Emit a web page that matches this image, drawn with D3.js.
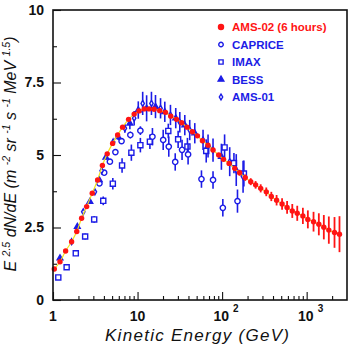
<!DOCTYPE html>
<meta charset="UTF-8">
<style>
  body { margin: 0; background: #fff; }
  text { font-family: "Liberation Sans", Arial, sans-serif; }
</style>
<svg width="350" height="346"></svg>
<script src="https://d3js.org/d3.v7.min.js"></script>
<script>
  // AMS-02 (6 hours) simulated points, kinetic energy in GeV
  const amsEnergy = [1.036, 1.21, 1.41, 1.66, 1.91, 2.18, 2.50, 2.91, 3.37, 3.84,
    4.38, 5.07, 5.81, 6.65, 7.83, 9.12, 10.4, 12.0, 13.7, 15.7,
    18.3, 21.4, 24.7, 28.9, 33.3, 38.5, 44.6, 51.1, 58.5, 68.2,
    78.1, 91.2, 104, 121, 141, 161, 188, 218, 249, 286,
    333, 382, 441, 512, 587, 676, 774, 902, 1033, 1206,
    1393, 1596, 1829, 2135, 2445];
  const amsFlux = [1.07, 1.32, 1.69, 2.01, 2.36, 2.82, 3.22, 3.68, 4.14, 4.64,
    5.04, 5.40, 5.69, 5.96, 6.23, 6.41, 6.52, 6.59, 6.59, 6.58,
    6.53, 6.47, 6.34, 6.23, 6.11, 5.96, 5.80, 5.66, 5.49, 5.34,
    5.17, 5.00, 4.85, 4.71, 4.54, 4.39, 4.22, 4.08, 3.97, 3.85,
    3.73, 3.57, 3.44, 3.31, 3.19, 3.07, 2.99, 2.90, 2.78, 2.70,
    2.61, 2.51, 2.41, 2.33, 2.27];
  const amsErr = [0.04, 0.04, 0.04, 0.04, 0.04, 0.04, 0.04, 0.04, 0.04, 0.04,
    0.04, 0.04, 0.04, 0.04, 0.04, 0.04, 0.04, 0.04, 0.04, 0.04,
    0.04, 0.04, 0.04, 0.04, 0.04, 0.04, 0.04, 0.04, 0.04, 0.04,
    0.06, 0.07, 0.07, 0.08, 0.09, 0.10, 0.11, 0.12, 0.13, 0.14,
    0.15, 0.16, 0.18, 0.20, 0.22, 0.24, 0.26, 0.28, 0.31, 0.34,
    0.38, 0.42, 0.47, 0.53, 0.62];

  const capriceEnergy = [3.54, 4.03, 4.71, 5.47, 6.47, 8.22, 10.8, 15.0, 20.1, 23.4, 27.9, 33.6, 39.6, 57.0, 78.1, 102, 152];
  const capriceFlux = [4.02, 4.39, 4.77, 5.10, 5.48, 5.69, 5.84, 5.63, 5.52, 5.29, 4.76, 5.18, 5.02, 4.17, 4.14, 3.18, 3.41];
  const capriceErr = [0.05, 0.06, 0.07, 0.08, 0.1, 0.12, 0.15, 0.3, 0.35, 0.35, 0.3, 0.35, 0.35, 0.3, 0.3, 0.3, 0.4];

  const imaxEnergy = [1.155, 1.45, 1.86, 2.40, 3.07, 3.93, 5.10, 6.56, 8.45, 10.8, 14.0, 23.1, 30.2, 38.9, 64.9, 107, 138, 181];
  const imaxFlux = [0.78, 1.13, 1.61, 2.19, 2.78, 3.42, 4.01, 4.64, 5.08, 5.34, 5.46, 5.83, 5.54, 5.29, 5.14, 5.26, 4.72, 4.36];
  const imaxErr = [0.05, 0.07, 0.08, 0.1, 0.12, 0.15, 0.2, 0.25, 0.28, 0.25, 0.25, 0.25, 0.3, 0.3, 0.4, 0.45, 0.35, 0.45];

  const bessEnergy = [1.21, 1.94, 2.73, 3.52, 4.22, 5.9, 8.11, 10.2, 12.8, 16.3, 21.0, 28.3, 36.2, 47.5, 68.2, 98.1];
  const bessFlux = [1.44, 2.53, 3.39, 4.14, 4.92, 5.62, 6.09, 6.55, 6.61, 6.67, 6.49, 6.27, 6.03, 5.75, 5.31, 4.94];
  const bessErr = [0.04, 0.05, 0.06, 0.07, 0.08, 0.1, 0.2, 0.3, 0.45, 0.4, 0.35, 0.35, 0.35, 0.35, 0.4, 0.45];

  const ams01Energy = [1.66, 2.28, 3.13, 3.76, 5.15, 7.08, 9.12, 11.5, 14.6, 18.7, 24.5, 31.6, 41.4, 59.5, 78.1, 123, 147, 177];
  const ams01Flux = [2.01, 3.04, 3.73, 4.46, 5.45, 5.92, 6.27, 6.78, 6.78, 6.61, 6.38, 6.13, 5.86, 5.52, 5.17, 4.77, 4.48, 4.25];
  const ams01Err = [0.05, 0.06, 0.07, 0.08, 0.1, 0.15, 0.25, 0.4, 0.4, 0.35, 0.35, 0.35, 0.35, 0.35, 0.4, 0.5, 0.55, 0.55];

  const yTicks = [0, 2.5, 5, 7.5, 10];
  const yMinor = [1.25, 3.75, 6.25, 8.75];
  const xTicks = [1, 10, 100, 1000];
  const xTickLabels = [['1', ''], ['10', ''], ['10', '2'], ['10', '3']];

  const legendLabels = ['AMS-02 (6 hours)', 'CAPRICE', 'IMAX', 'BESS', 'AMS-01'];

  const RED = '#ff1414', BLUE = '#1c1ce6';

  const plotLeft = 53, plotRight = 347, plotTop = 10, plotBottom = 300;

  const svg = d3.select('svg');
  const x = d3.scaleLog().domain([1, 3000]).range([plotLeft, plotRight]);
  const y = d3.scaleLinear().domain([0, 10]).range([plotBottom, plotTop]);

  const zip = (e, f, s) => e.map((v, i) => ({ e: v, f: f[i], s: s[i] }));

  const blueSets = [
    { pts: zip(imaxEnergy, imaxFlux, imaxErr), sym: d3.symbolSquare, size: 26, fill: false },
    { pts: zip(capriceEnergy, capriceFlux, capriceErr), sym: d3.symbolCircle, size: 22, fill: false },
    { pts: zip(bessEnergy, bessFlux, bessErr), sym: d3.symbolTriangle, size: 14, fill: true },
    { pts: zip(ams01Energy, ams01Flux, ams01Err), sym: d3.symbolDiamond, size: 10, fill: false },
  ];

  // blue data sets with error bars
  blueSets.forEach(set => {
    const g = svg.append('g');
    g.selectAll('line').data(set.pts).enter().append('line')
      .attr('x1', d => x(d.e)).attr('x2', d => x(d.e))
      .attr('y1', d => y(d.f - d.s)).attr('y2', d => y(d.f + d.s))
      .attr('stroke', BLUE).attr('stroke-width', 1.6);
    g.selectAll('path').data(set.pts).enter().append('path')
      .attr('d', d3.symbol().type(set.sym).size(set.size))
      .attr('transform', d => `translate(${x(d.e)},${y(d.f)})`)
      .attr('fill', set.fill ? BLUE : '#fff')
      .attr('stroke', BLUE).attr('stroke-width', 1.4);
  });

  const ams = zip(amsEnergy, amsFlux, amsErr);

  svg.append('g').selectAll('line').data(ams).enter().append('line')
    .attr('x1', d => x(d.e)).attr('x2', d => x(d.e))
    .attr('y1', d => y(d.f - d.s)).attr('y2', d => y(d.f + d.s))
    .attr('stroke', RED).attr('stroke-width', 1.8);

  svg.append('path')
    .datum(ams)
    .attr('d', d3.line().x(d => x(d.e)).y(d => y(d.f)).curve(d3.curveMonotoneX))
    .attr('fill', 'none').attr('stroke', '#f2e21c').attr('stroke-width', 1.2);

  svg.append('g').selectAll('circle').data(ams).enter().append('circle')
    .attr('cx', d => x(d.e)).attr('cy', d => y(d.f)).attr('r', 2.7)
    .attr('fill', RED);

  // frame
  svg.append('rect')
    .attr('x', plotLeft).attr('y', plotTop)
    .attr('width', plotRight - plotLeft).attr('height', plotBottom - plotTop)
    .attr('fill', 'none').attr('stroke', '#111').attr('stroke-width', 1.6);

  // y axis, ticks pointing inside
  const yAxis = svg.append('g').attr('transform', `translate(${plotLeft},0)`)
    .call(d3.axisLeft(y).tickValues(yTicks).tickSize(-8).tickPadding(9)
      .tickFormat(d => d3.format('~g')(d)));
  svg.append('g').attr('transform', `translate(${plotLeft},0)`)
    .call(d3.axisLeft(y).tickValues(yMinor).tickSize(-4).tickFormat(''));

  const xMinor = [];
  for (let dec = 1; dec <= 1000; dec *= 10) {
    for (let k = 2; k <= 9; k++) if (k * dec < 3000) xMinor.push(k * dec);
  }
  svg.append('g').attr('transform', `translate(0,${plotBottom})`)
    .call(d3.axisBottom(x).tickValues(xTicks).tickSize(-8).tickFormat(''));
  svg.append('g').attr('transform', `translate(0,${plotBottom})`)
    .call(d3.axisBottom(x).tickValues(xMinor).tickSize(-4).tickFormat(''));

  svg.selectAll('.domain').remove();
  svg.selectAll('.tick line').attr('stroke', '#111').attr('stroke-width', 1.1);

  yAxis.selectAll('text')
    .attr('font-size', 14).attr('font-weight', 'bold').attr('fill', '#111')
    .attr('font-family', '"Liberation Sans", Arial, sans-serif');

  // x tick labels with superscript powers
  xTicks.forEach((v, i) => {
    const [base, pow] = xTickLabels[i];
    const t = svg.append('text')
      .attr('x', x(v) + (pow ? 4 : 0)).attr('y', 321)
      .attr('text-anchor', 'middle')
      .attr('font-size', 14).attr('font-weight', 'bold').attr('fill', '#111');
    t.append('tspan').text(base);
    if (pow) {
      t.append('tspan').attr('dx', 4).attr('dy', -9).attr('font-size', 10).text(pow);
    }
  });

  // axis titles
  svg.append('text')
    .attr('x', 197).attr('y', 341)
    .attr('text-anchor', 'middle')
    .attr('font-size', 17).attr('font-style', 'italic').attr('fill', '#111')
    .attr('textLength', 184).attr('lengthAdjust', 'spacing')
    .text('Kinetic Energy (GeV)');

  const yTitle = svg.append('text')
    .attr('transform', 'translate(16,154) rotate(-90)')
    .attr('text-anchor', 'middle')
    .attr('font-size', 16).attr('font-style', 'italic').attr('fill', '#111');
  const parts = [['E ', ''], ['', '2.5'], [' dN/dE (m ', ''], ['', '-2'], [' sr ', ''], ['', '-1'],
    [' s ', ''], ['', '-1'], [' MeV ', ''], ['', '1.5'], [')', '']];
  let raised = false;
  parts.forEach(([main, sup]) => {
    if (sup) {
      yTitle.append('tspan').attr('font-size', 10.5).attr('dy', raised ? 0 : -6.5).text(sup);
      raised = true;
    } else {
      yTitle.append('tspan').attr('dy', raised ? 6.5 : 0).text(main);
      raised = false;
    }
  });

  // legend
  const legendSyms = [
    { sym: d3.symbolCircle, size: 20, fill: true, color: RED },
    { sym: d3.symbolCircle, size: 16, fill: false, color: BLUE },
    { sym: d3.symbolSquare, size: 18, fill: false, color: BLUE },
    { sym: d3.symbolTriangle, size: 14, fill: true, color: BLUE },
    { sym: d3.symbolDiamond, size: 10, fill: false, color: BLUE },
  ];
  const legend = svg.append('g');
  legendLabels.forEach((label, i) => {
    const ly = 27 + i * 17.5;
    const s = legendSyms[i];
    legend.append('path')
      .attr('d', d3.symbol().type(s.sym).size(s.size))
      .attr('transform', `translate(221,${ly})`)
      .attr('fill', s.fill ? s.color : '#fff')
      .attr('stroke', s.color).attr('stroke-width', 1.4);
    legend.append('text')
      .attr('x', 232).attr('y', ly + 4)
      .attr('font-size', 11.5).attr('font-weight', 'bold').attr('fill', s.color)
      .text(label);
  });
</script>
